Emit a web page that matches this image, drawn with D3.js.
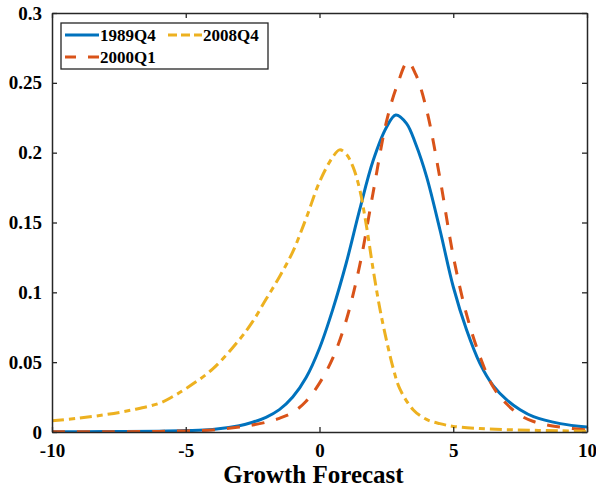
<!DOCTYPE html>
<html>
<head>
<meta charset="utf-8">
<script src="https://cdn.jsdelivr.net/npm/d3@7"></script>
<style>
  html, body { margin: 0; padding: 0; background: #fff; }
  text { font-family: "Liberation Serif", "Times New Roman", serif; font-weight: bold; fill: #000; }
</style>
</head>
<body>
<script>
// ---- data ----
const seriesNames = ["1989Q4", "2000Q1", "2008Q4"];

const x1989 = [-10,-8,-6,-5,-4,-3,-2.5,-2,-1.5,-1,-0.5,0,0.5,1,1.5,2,2.5,2.85,3.25,3.6,4,4.5,5,5.5,6,6.5,7,7.5,8,9,10];
const y1989 = [0.0002,0.0003,0.0006,0.001,0.0018,0.0045,0.007,0.0105,0.016,0.025,0.039,0.060,0.088,0.121,0.159,0.194,0.218,0.227,0.221,0.206,0.183,0.145,0.104,0.073,0.049,0.033,0.023,0.016,0.011,0.006,0.0035];

const x2000 = [-10,-8,-6,-5,-4,-3,-2.5,-2,-1.5,-1,-0.5,0,0.5,1,1.5,2,2.5,2.9,3.3,3.6,4,4.5,5,5.5,6,6.5,7,7.5,8,8.5,9,10];
const y2000 = [0.0001,0.0002,0.0004,0.0008,0.0015,0.0035,0.005,0.007,0.0098,0.014,0.022,0.035,0.053,0.080,0.119,0.171,0.222,0.248,0.265,0.256,0.231,0.182,0.126,0.084,0.054,0.032,0.020,0.012,0.0075,0.005,0.0035,0.0015];

const x2008 = [-10,-9,-8,-7,-6,-5.5,-5,-4,-3,-2.5,-2,-1.5,-1,-0.5,0,0.5,0.75,1,1.25,1.5,1.75,2,2.25,2.5,2.75,3,3.5,4,4.5,5,6,7,8,9,10];
const y2008 = [0.008,0.0099,0.0124,0.0158,0.0205,0.0252,0.031,0.045,0.066,0.079,0.095,0.111,0.129,0.153,0.179,0.197,0.202,0.199,0.190,0.174,0.148,0.117,0.089,0.066,0.046,0.031,0.016,0.009,0.006,0.004,0.0025,0.0017,0.0012,0.0009,0.0005];

const xTicks = [-10, -5, 0, 5, 10];
const yTicks = [0, 0.05, 0.1, 0.15, 0.2, 0.25, 0.3];
const xLabel = "Growth Forecast";

// ---- layout ----
const W = 596, H = 490;
const m = { left: 52, right: 9, top: 13, bottom: 58 };
const iw = W - m.left - m.right, ih = H - m.top - m.bottom;

const svg = d3.select("body").append("svg").attr("width", W).attr("height", H);
const g = svg.append("g").attr("transform", `translate(${m.left},${m.top})`);

const x = d3.scaleLinear().domain([-10, 10]).range([0, iw]);
const y = d3.scaleLinear().domain([0, 0.3]).range([ih, 0]);

g.append("clipPath").attr("id", "clip").append("rect")
  .attr("x", 0).attr("y", -2).attr("width", iw).attr("height", ih + 2);

const series = [
  { name: seriesNames[0], xs: x1989, ys: y1989, color: "#0072BD", dash: null },
  { name: seriesNames[1], xs: x2000, ys: y2000, color: "#D95319", dash: "13,12" },
  { name: seriesNames[2], xs: x2008, ys: y2008, color: "#EDB120", dash: "12,5,6,5" }
];

const line = d3.line().x(d => x(d[0])).y(d => y(Math.max(0, d[1]))).curve(d3.curveCatmullRom.alpha(0.5));

const lines = g.append("g").attr("clip-path", "url(#clip)");
series.forEach(s => {
  lines.append("path")
    .datum(s.xs.map((v, i) => [v, s.ys[i]]))
    .attr("d", line)
    .attr("fill", "none")
    .attr("stroke", s.color)
    .attr("stroke-width", 3)
    .attr("stroke-dasharray", s.dash);
});

// ---- axes ----
const axisColor = "#262626";
const fmtY = d => d === 0 ? "0" : String(+d.toFixed(2));
const fmtX = d => String(d);
const xAxis = g.append("g").attr("transform", `translate(0,${ih})`)
  .call(d3.axisBottom(x).tickValues(xTicks).tickSizeInner(-5).tickSizeOuter(0).tickPadding(12).tickFormat(fmtX));
const yAxis = g.append("g")
  .call(d3.axisLeft(y).tickValues(yTicks).tickSizeInner(-5).tickSizeOuter(0).tickPadding(10).tickFormat(fmtY));
const xTop = g.append("g")
  .call(d3.axisTop(x).tickValues(xTicks).tickSizeInner(-5).tickSizeOuter(0).tickFormat(""));
const yRight = g.append("g").attr("transform", `translate(${iw},0)`)
  .call(d3.axisRight(y).tickValues(yTicks).tickSizeInner(-5).tickSizeOuter(0).tickFormat(""));

[xAxis, yAxis, xTop, yRight].forEach(a => {
  a.select(".domain").attr("stroke", axisColor).attr("stroke-width", 1.5);
  a.selectAll(".tick line").attr("stroke", axisColor).attr("stroke-width", 1.3);
  a.selectAll("text").style("font-family", "'Liberation Serif', serif")
    .style("font-weight", "bold").style("font-size", "19px").attr("fill", "#000");
});

// x label
svg.append("text")
  .attr("x", m.left + iw / 2 - 6).attr("y", 483)
  .attr("text-anchor", "middle")
  .style("font-size", "25px")
  .text(xLabel);

// ---- legend ----
const lg = svg.append("g").attr("transform", "translate(61,23)");
lg.append("rect").attr("width", 207).attr("height", 46)
  .attr("fill", "#fff").attr("stroke", axisColor).attr("stroke-width", 1.3);
const legendPos = [
  { s: series[0], lx: 4, ly: 12 },
  { s: series[1], lx: 4, ly: 34 },
  { s: series[2], lx: 107, ly: 12 }
];
legendPos.forEach(p => {
  lg.append("line").attr("x1", p.lx).attr("x2", p.lx + 34)
    .attr("y1", p.ly).attr("y2", p.ly)
    .attr("stroke", p.s.color).attr("stroke-width", 3)
    .attr("stroke-dasharray", p.s.name === "2000Q1" ? "11,12" : (p.s.name === "2008Q4" ? "9,4,9,4" : null));
  lg.append("text").attr("x", p.lx + 35).attr("y", p.ly + 6)
    .style("font-size", "17px").text(p.s.name);
});
</script>
</body>
</html>
